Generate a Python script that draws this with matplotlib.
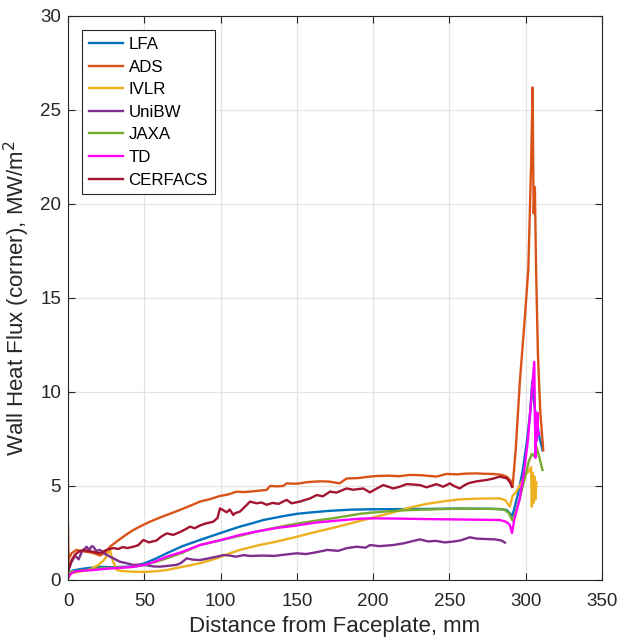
import matplotlib
matplotlib.use("Agg")
import matplotlib.pyplot as plt

plt.rcParams['font.family'] = ['Liberation Sans', 'DejaVu Sans']

# ---------------- data ----------------
lfa_x = [0, 3, 8, 15, 21, 30, 42.8, 50, 57, 64.7, 75, 86.5, 100, 106, 112.7, 120, 128, 140, 150, 160,
         171.7, 185, 198, 215, 235, 256.8, 275, 284, 287.5, 289.5, 291, 292.2, 295, 298, 301, 303, 304.3,
         305.5, 306.5, 307.5, 309, 311]
lfa_y = [0.3, 0.5, 0.58, 0.65, 0.7, 0.68, 0.72, 0.88, 1.12, 1.42, 1.8, 2.13, 2.5, 2.66, 2.84, 3.0, 3.19,
         3.38, 3.52, 3.6, 3.68, 3.74, 3.76, 3.77, 3.78, 3.8, 3.79, 3.77, 3.72, 3.55, 3.4, 3.7, 4.6, 5.8,
         7.5, 9.0, 10.6, 9.4, 8.8, 8.3, 7.6, 6.9]

ads_x = [0, 0.3, 1, 2.4, 5.6, 8, 12, 16, 21, 25, 27.5, 32, 37, 42.8, 48, 53.7, 59, 64.7, 70, 75.6, 81,
         86.5, 93, 99.6, 105, 110.5, 115, 119.2, 125, 130.2, 132.4, 137, 141, 143.3, 148, 152, 156, 160.7,
         166, 171.6, 178, 182.6, 190, 197.9, 202.2, 210, 217, 224, 232, 241.5, 248, 255, 261, 267.7, 273,
         278.6, 284, 287.5, 290, 291.4, 293.5, 296.2, 299, 301.7, 303.5, 304.5, 305.2, 306, 306.8, 308,
         309.5, 311.5]
ads_y = [2.9, 1.1, 1.2, 1.43, 1.6, 1.55, 1.5, 1.45, 1.3, 1.5, 1.77, 2.05, 2.35, 2.66, 2.88, 3.1, 3.28,
         3.46, 3.62, 3.8, 3.98, 4.17, 4.3, 4.47, 4.55, 4.7, 4.68, 4.7, 4.75, 4.79, 5.0, 4.98, 5.0, 5.14,
         5.12, 5.14, 5.2, 5.23, 5.25, 5.23, 5.14, 5.4, 5.42, 5.5, 5.53, 5.55, 5.52, 5.59, 5.57, 5.5, 5.64,
         5.62, 5.66, 5.67, 5.65, 5.64, 5.6, 5.5, 5.3, 4.95, 7.0, 10.6, 13.5, 16.5, 22.0, 26.2, 19.5, 20.9,
         16.5, 12.0, 9.0, 6.9]

ivlr_x = [0, 0.2, 0.5, 3, 8, 14, 20, 24, 27.5, 29.5, 31.9, 36, 42.8, 50, 57, 64.7, 75.6, 86.5, 97.4, 106,
          112.7, 125, 137, 150, 162, 175, 187, 198, 213.2, 224, 235, 246, 256.8, 270, 283, 286.5, 289.6,
          291.5, 293, 296, 299, 302, 303.5, 304, 304.6, 305.2, 305.8, 306.4, 307]
ivlr_y = [0.4, 1.05, 0.35, 0.38, 0.45, 0.55, 0.8, 1.1, 1.6, 1.0, 0.53, 0.47, 0.44, 0.43, 0.46, 0.53, 0.71,
          0.89, 1.15, 1.42, 1.6, 1.85, 2.05, 2.3, 2.55, 2.8, 3.05, 3.28, 3.6, 3.85, 4.05, 4.18, 4.29, 4.33,
          4.34, 4.25, 3.9, 4.5, 4.6, 5.0, 5.5, 5.8, 6.0, 3.9, 5.7, 4.1, 5.5, 4.3, 5.2]

unibw_x = [0, 2, 4.6, 7, 9, 12.2, 14, 15.5, 16.6, 18.5, 21, 24, 27.5, 31, 34, 38, 42.8, 47, 52, 56, 60.3,
           65, 71, 74, 77.8, 82, 86.5, 92, 97.4, 102, 106, 110, 115, 120, 128, 135, 142, 150, 156, 163,
           170, 177, 183, 189.3, 195, 198, 204, 213.2, 220, 225, 230.6, 236, 241, 247, 252, 257, 263.4,
           268, 274, 280, 284, 286.4]
unibw_y = [0.4, 0.9, 1.3, 1.1, 1.5, 1.77, 1.6, 1.8, 1.77, 1.55, 1.6, 1.4, 1.24, 1.1, 0.97, 0.9, 0.8, 0.82,
           0.78, 0.72, 0.71, 0.75, 0.8, 0.9, 1.15, 1.08, 1.06, 1.15, 1.24, 1.33, 1.3, 1.24, 1.32, 1.28,
           1.3, 1.28, 1.35, 1.42, 1.38, 1.48, 1.6, 1.55, 1.7, 1.77, 1.72, 1.86, 1.8, 1.86, 1.95, 2.05, 2.16,
           2.05, 2.08, 2.0, 2.04, 2.1, 2.27, 2.2, 2.18, 2.16, 2.1, 1.99]

jaxa_x = [0, 3, 8, 15, 21, 30, 42.8, 50, 57, 64.7, 75, 86.5, 100, 112.7, 125, 137, 150, 162, 175, 191.3,
          198, 213.2, 224, 256.8, 280, 286, 289, 290.5, 291.5, 293, 296, 299, 302, 304, 305.5, 307, 309,
          311]
jaxa_y = [0.4, 0.45, 0.5, 0.55, 0.62, 0.65, 0.7, 0.8, 0.95, 1.15, 1.45, 1.86, 2.12, 2.35, 2.6, 2.8, 3.0,
          3.15, 3.3, 3.52, 3.58, 3.67, 3.72, 3.8, 3.78, 3.74, 3.55, 3.3, 3.15, 3.5, 4.3, 5.3, 6.3, 6.7,
          6.6, 7.1, 6.5, 5.85]

td_x = [0, 2, 5, 10, 16.6, 25, 35, 42.8, 50, 57, 64.7, 75, 86.5, 100, 112.7, 125, 137, 149.9, 162, 175,
        191.3, 198, 213, 235, 256, 275, 283, 287, 289.5, 291, 292.5, 296, 299, 301.5, 303.5, 305.6, 306,
        306.4, 306.8, 307.2, 307.6, 308, 308.9]
td_y = [0.1, 0.35, 0.46, 0.5, 0.53, 0.6, 0.65, 0.7, 0.8, 0.98, 1.24, 1.5, 1.86, 2.12, 2.4, 2.6, 2.77, 2.9,
        3.05, 3.15, 3.26, 3.28, 3.27, 3.24, 3.22, 3.2, 3.19, 3.1, 2.95, 2.5, 3.2, 4.3, 5.8, 7.5, 9.5, 11.6,
        8.9, 6.5, 8.7, 7.4, 8.9, 7.7, 7.8]

cerfacs_x = [0, 2, 4.6, 7, 10, 13, 16.6, 19, 21, 25.3, 29.7, 33, 35.8, 39, 42.8, 46, 49.4, 53, 58, 61,
             64.7, 69, 73.4, 77, 80, 83, 86.5, 90, 95.2, 98, 99.6, 102, 104, 106, 108.3, 109.4, 112.7, 116,
             119.3, 123.6, 127, 130.2, 134, 138, 143.3, 146.6, 149, 152, 155, 158.7, 163, 167, 171.7, 176,
             182.6, 187, 193.5, 197.9, 202, 206.6, 213.2, 217, 221.9, 226, 230.6, 235, 241.5, 245.9, 250.3,
             253, 256.8, 260, 263.4, 268, 274.3, 279, 283, 287.5, 289.7, 291]
cerfacs_y = [0.5, 1.0, 1.35, 1.5, 1.6, 1.55, 1.5, 1.45, 1.43, 1.6, 1.7, 1.65, 1.75, 1.7, 1.77, 1.85, 2.13,
             2.0, 2.1, 2.3, 2.48, 2.4, 2.55, 2.7, 2.84, 2.75, 2.9, 3.0, 3.1, 3.3, 3.81, 3.7, 3.6, 3.75, 3.46,
             3.55, 3.64, 3.9, 4.17, 4.08, 4.12, 4.0, 4.1, 4.05, 4.26, 4.08, 4.12, 4.17, 4.25, 4.34, 4.52,
             4.45, 4.7, 4.65, 4.87, 4.8, 4.87, 4.66, 4.85, 5.05, 4.87, 4.95, 5.1, 5.08, 5.05, 4.93, 5.1,
             4.96, 5.14, 5.0, 4.87, 5.05, 5.17, 5.25, 5.32, 5.4, 5.5, 5.41, 5.2, 4.95]

series_names = ["LFA", "ADS", "IVLR", "UniBW", "JAXA", "TD", "CERFACS"]
x_ticks = [0, 50, 100, 150, 200, 250, 300, 350]
y_ticks = [0, 5, 10, 15, 20, 25, 30]

# ---------------- plot ----------------
colors = ["#0072BD", "#D95319", "#EDB120", "#7E2F8E", "#77AC30", "#FF00FF", "#A2142F"]
xs = [lfa_x, ads_x, ivlr_x, unibw_x, jaxa_x, td_x, cerfacs_x]
ys = [lfa_y, ads_y, ivlr_y, unibw_y, jaxa_y, td_y, cerfacs_y]

fig = plt.figure(figsize=(6.32, 6.42), dpi=100)
ax = fig.add_axes([68/632, 62/642, 534/632, 564/642])

for x, y, c, n in zip(xs, ys, colors, series_names):
    ax.plot(x, y, color=c, lw=1.7, label=n)

ax.set_xlim(0, 350)
ax.set_ylim(0, 30)
ax.set_xticks(x_ticks)
ax.set_yticks(y_ticks)
ax.grid(True, color="#E3E3E3", lw=0.9)
ax.set_axisbelow(True)
for s in ax.spines.values():
    s.set_color("#262626")
    s.set_linewidth(0.8)
ax.tick_params(direction="in", top=True, right=True, length=5, width=0.8,
               colors="#262626", labelsize=13.5, labelcolor="#262626")
ax.tick_params(axis="x", pad=9)
ax.tick_params(axis="y", pad=5)
ax.set_xlabel("Distance from Faceplate, mm", fontsize=16, color="#262626", labelpad=5)
ax.set_ylabel("Wall Heat Flux (corner), MW/m$^2$", fontsize=16, color="#262626", labelpad=6)

leg = ax.legend(loc="upper left", bbox_to_anchor=(0.026, 0.975), fontsize=12.2, frameon=True,
                fancybox=False, edgecolor="#262626", framealpha=1, handlelength=2.0,
                handletextpad=0.35, borderpad=0.4, labelspacing=0.45, borderaxespad=0)
leg.get_frame().set_linewidth(0.8)

fig.savefig("out.png", dpi=100)
